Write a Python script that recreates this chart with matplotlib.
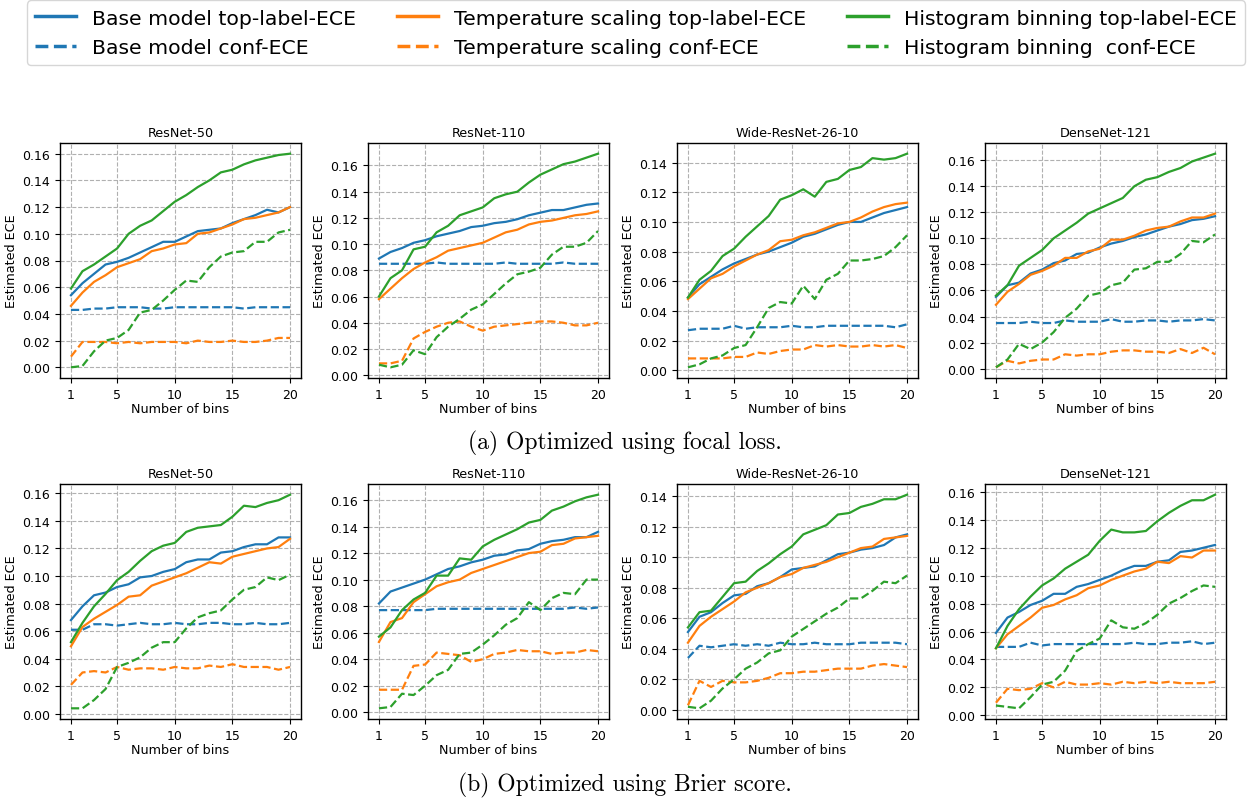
import numpy as np
import matplotlib
matplotlib.use("Agg")
import matplotlib.pyplot as plt
from matplotlib.lines import Line2D
from matplotlib.ticker import MultipleLocator, FormatStrFormatter

# number of bins on x
bins = list(range(1, 21))
titles = ["ResNet-50", "ResNet-110", "Wide-ResNet-26-10", "DenseNet-121"]
captions = ["(a) Optimized using focal loss.", "(b) Optimized using Brier score."]
legend_labels = ["Base model top-label-ECE", "Base model conf-ECE",
                 "Temperature scaling top-label-ECE", "Temperature scaling conf-ECE",
                 "Histogram binning top-label-ECE", "Histogram binning  conf-ECE"]

# ---- (a) focal loss ----
# ResNet-50
fl_r50_base_top = [0.054, 0.063, 0.070, 0.077, 0.079, 0.082, 0.086, 0.090, 0.094, 0.094, 0.098, 0.102, 0.103, 0.104, 0.108, 0.111, 0.114, 0.118, 0.116, 0.120]
fl_r50_base_conf = [0.043, 0.043, 0.044, 0.044, 0.045, 0.045, 0.045, 0.044, 0.044, 0.045, 0.045, 0.045, 0.045, 0.045, 0.045, 0.044, 0.045, 0.045, 0.045, 0.045]
fl_r50_ts_top = [0.046, 0.056, 0.064, 0.069, 0.075, 0.078, 0.081, 0.087, 0.089, 0.092, 0.093, 0.100, 0.101, 0.104, 0.107, 0.111, 0.112, 0.114, 0.116, 0.120]
fl_r50_ts_conf = [0.008, 0.019, 0.019, 0.019, 0.018, 0.019, 0.018, 0.019, 0.019, 0.019, 0.018, 0.020, 0.019, 0.019, 0.020, 0.019, 0.019, 0.020, 0.022, 0.022]
fl_r50_hb_top = [0.059, 0.072, 0.077, 0.083, 0.089, 0.100, 0.106, 0.110, 0.117, 0.124, 0.129, 0.135, 0.140, 0.146, 0.148, 0.152, 0.155, 0.157, 0.159, 0.160]
fl_r50_hb_conf = [0.000, 0.001, 0.012, 0.020, 0.022, 0.028, 0.041, 0.043, 0.050, 0.058, 0.065, 0.064, 0.075, 0.083, 0.086, 0.087, 0.094, 0.094, 0.101, 0.103]
# ResNet-110
fl_r110_base_top = [0.089, 0.094, 0.097, 0.101, 0.103, 0.106, 0.108, 0.110, 0.113, 0.114, 0.116, 0.117, 0.119, 0.122, 0.124, 0.126, 0.126, 0.128, 0.130, 0.131]
fl_r110_base_conf = [0.085, 0.085, 0.085, 0.085, 0.085, 0.086, 0.085, 0.085, 0.085, 0.085, 0.085, 0.086, 0.085, 0.085, 0.085, 0.085, 0.086, 0.085, 0.085, 0.085]
fl_r110_ts_top = [0.058, 0.066, 0.074, 0.081, 0.086, 0.090, 0.095, 0.097, 0.099, 0.101, 0.105, 0.109, 0.111, 0.115, 0.117, 0.118, 0.120, 0.122, 0.123, 0.125]
fl_r110_ts_conf = [0.009, 0.009, 0.011, 0.028, 0.033, 0.037, 0.040, 0.041, 0.037, 0.034, 0.037, 0.038, 0.039, 0.040, 0.041, 0.041, 0.040, 0.038, 0.038, 0.040]
fl_r110_hb_top = [0.060, 0.074, 0.080, 0.096, 0.098, 0.109, 0.114, 0.122, 0.125, 0.128, 0.135, 0.138, 0.140, 0.147, 0.153, 0.157, 0.161, 0.163, 0.166, 0.169]
fl_r110_hb_conf = [0.008, 0.006, 0.008, 0.019, 0.016, 0.029, 0.037, 0.043, 0.050, 0.054, 0.062, 0.070, 0.077, 0.079, 0.082, 0.092, 0.098, 0.098, 0.101, 0.110]
# Wide-ResNet-26-10
fl_wrn_base_top = [0.049, 0.058, 0.063, 0.068, 0.072, 0.075, 0.078, 0.080, 0.083, 0.086, 0.090, 0.092, 0.095, 0.098, 0.100, 0.100, 0.103, 0.106, 0.108, 0.110]
fl_wrn_base_conf = [0.027, 0.028, 0.028, 0.028, 0.030, 0.028, 0.029, 0.029, 0.029, 0.030, 0.029, 0.029, 0.030, 0.030, 0.030, 0.030, 0.030, 0.030, 0.029, 0.031]
fl_wrn_ts_top = [0.048, 0.055, 0.062, 0.065, 0.070, 0.074, 0.078, 0.081, 0.087, 0.088, 0.091, 0.093, 0.096, 0.099, 0.100, 0.103, 0.107, 0.110, 0.112, 0.113]
fl_wrn_ts_conf = [0.008, 0.008, 0.008, 0.008, 0.009, 0.009, 0.012, 0.011, 0.013, 0.014, 0.014, 0.017, 0.016, 0.017, 0.016, 0.016, 0.017, 0.016, 0.017, 0.015]
fl_wrn_hb_top = [0.049, 0.061, 0.067, 0.077, 0.082, 0.090, 0.097, 0.104, 0.115, 0.118, 0.122, 0.117, 0.127, 0.129, 0.135, 0.137, 0.143, 0.142, 0.143, 0.146]
fl_wrn_hb_conf = [0.002, 0.004, 0.008, 0.010, 0.015, 0.017, 0.029, 0.042, 0.046, 0.045, 0.057, 0.048, 0.061, 0.065, 0.074, 0.074, 0.075, 0.077, 0.083, 0.091]
# DenseNet-121
fl_dn_base_top = [0.055, 0.064, 0.066, 0.073, 0.076, 0.081, 0.083, 0.088, 0.089, 0.093, 0.096, 0.098, 0.101, 0.103, 0.106, 0.109, 0.111, 0.114, 0.115, 0.117]
fl_dn_base_conf = [0.035, 0.035, 0.035, 0.036, 0.035, 0.035, 0.037, 0.036, 0.036, 0.036, 0.038, 0.036, 0.036, 0.037, 0.037, 0.036, 0.037, 0.037, 0.038, 0.037]
fl_dn_ts_top = [0.049, 0.059, 0.065, 0.072, 0.075, 0.079, 0.085, 0.085, 0.090, 0.092, 0.099, 0.099, 0.102, 0.106, 0.108, 0.109, 0.113, 0.116, 0.116, 0.119]
fl_dn_ts_conf = [0.001, 0.006, 0.004, 0.006, 0.007, 0.007, 0.011, 0.010, 0.011, 0.011, 0.013, 0.014, 0.014, 0.013, 0.013, 0.012, 0.015, 0.012, 0.016, 0.011]
fl_dn_hb_top = [0.056, 0.064, 0.079, 0.085, 0.091, 0.100, 0.106, 0.112, 0.119, 0.123, 0.127, 0.131, 0.140, 0.145, 0.147, 0.151, 0.154, 0.159, 0.162, 0.165]
fl_dn_hb_conf = [0.001, 0.007, 0.019, 0.015, 0.020, 0.028, 0.039, 0.046, 0.056, 0.058, 0.064, 0.066, 0.076, 0.077, 0.082, 0.082, 0.088, 0.098, 0.097, 0.103]

# ---- (b) Brier score ----
# ResNet-50
bs_r50_base_top = [0.068, 0.078, 0.086, 0.088, 0.092, 0.094, 0.099, 0.100, 0.103, 0.105, 0.110, 0.112, 0.112, 0.117, 0.118, 0.121, 0.123, 0.123, 0.128, 0.128]
bs_r50_base_conf = [0.061, 0.061, 0.065, 0.065, 0.064, 0.065, 0.066, 0.065, 0.065, 0.066, 0.065, 0.065, 0.066, 0.066, 0.065, 0.065, 0.066, 0.065, 0.065, 0.066]
bs_r50_ts_top = [0.049, 0.063, 0.069, 0.074, 0.079, 0.085, 0.086, 0.093, 0.096, 0.099, 0.102, 0.106, 0.110, 0.109, 0.114, 0.116, 0.118, 0.120, 0.121, 0.127]
bs_r50_ts_conf = [0.021, 0.030, 0.031, 0.030, 0.034, 0.032, 0.033, 0.033, 0.032, 0.034, 0.033, 0.033, 0.035, 0.034, 0.036, 0.034, 0.034, 0.034, 0.032, 0.034]
bs_r50_hb_top = [0.052, 0.066, 0.078, 0.087, 0.097, 0.103, 0.111, 0.118, 0.122, 0.124, 0.132, 0.135, 0.136, 0.137, 0.143, 0.151, 0.150, 0.153, 0.155, 0.159]
bs_r50_hb_conf = [0.004, 0.004, 0.010, 0.018, 0.034, 0.037, 0.041, 0.048, 0.052, 0.052, 0.062, 0.070, 0.073, 0.075, 0.083, 0.090, 0.092, 0.099, 0.097, 0.101]
# ResNet-110
bs_r110_base_top = [0.082, 0.091, 0.094, 0.097, 0.100, 0.104, 0.108, 0.110, 0.113, 0.115, 0.118, 0.119, 0.122, 0.123, 0.127, 0.129, 0.130, 0.132, 0.132, 0.136]
bs_r110_base_conf = [0.077, 0.077, 0.077, 0.077, 0.077, 0.078, 0.078, 0.078, 0.078, 0.078, 0.078, 0.078, 0.078, 0.078, 0.078, 0.078, 0.078, 0.079, 0.078, 0.079]
bs_r110_ts_top = [0.053, 0.068, 0.071, 0.083, 0.089, 0.095, 0.098, 0.100, 0.105, 0.108, 0.111, 0.114, 0.117, 0.120, 0.121, 0.126, 0.127, 0.131, 0.132, 0.133]
bs_r110_ts_conf = [0.017, 0.017, 0.017, 0.035, 0.036, 0.045, 0.044, 0.043, 0.038, 0.040, 0.044, 0.045, 0.047, 0.046, 0.046, 0.044, 0.045, 0.045, 0.047, 0.046]
bs_r110_hb_top = [0.057, 0.064, 0.077, 0.085, 0.090, 0.103, 0.103, 0.116, 0.115, 0.125, 0.130, 0.134, 0.138, 0.143, 0.145, 0.152, 0.155, 0.159, 0.162, 0.164]
bs_r110_hb_conf = [0.003, 0.004, 0.014, 0.013, 0.020, 0.028, 0.032, 0.044, 0.045, 0.051, 0.058, 0.066, 0.071, 0.083, 0.077, 0.086, 0.090, 0.089, 0.100, 0.100]
# Wide-ResNet-26-10
bs_wrn_base_top = [0.051, 0.061, 0.064, 0.070, 0.075, 0.076, 0.081, 0.083, 0.087, 0.092, 0.093, 0.094, 0.098, 0.102, 0.103, 0.105, 0.106, 0.108, 0.113, 0.115]
bs_wrn_base_conf = [0.034, 0.042, 0.041, 0.042, 0.043, 0.042, 0.043, 0.042, 0.044, 0.043, 0.043, 0.044, 0.043, 0.043, 0.043, 0.044, 0.044, 0.044, 0.044, 0.043]
bs_wrn_ts_top = [0.044, 0.055, 0.061, 0.066, 0.071, 0.077, 0.080, 0.083, 0.087, 0.089, 0.093, 0.095, 0.097, 0.100, 0.103, 0.106, 0.107, 0.112, 0.113, 0.114]
bs_wrn_ts_conf = [0.003, 0.019, 0.015, 0.019, 0.018, 0.018, 0.019, 0.021, 0.024, 0.024, 0.025, 0.025, 0.026, 0.027, 0.027, 0.027, 0.029, 0.030, 0.029, 0.028]
bs_wrn_hb_top = [0.054, 0.064, 0.065, 0.074, 0.083, 0.084, 0.091, 0.096, 0.102, 0.107, 0.115, 0.118, 0.121, 0.128, 0.129, 0.133, 0.135, 0.138, 0.138, 0.141]
bs_wrn_hb_conf = [0.002, 0.001, 0.006, 0.014, 0.020, 0.027, 0.031, 0.037, 0.039, 0.048, 0.053, 0.058, 0.063, 0.067, 0.073, 0.073, 0.078, 0.084, 0.083, 0.088]
# DenseNet-121
bs_dn_base_top = [0.059, 0.070, 0.074, 0.079, 0.082, 0.087, 0.087, 0.092, 0.094, 0.097, 0.100, 0.104, 0.107, 0.107, 0.110, 0.111, 0.117, 0.118, 0.120, 0.122]
bs_dn_base_conf = [0.049, 0.049, 0.049, 0.052, 0.050, 0.051, 0.051, 0.051, 0.051, 0.051, 0.051, 0.051, 0.052, 0.051, 0.051, 0.052, 0.052, 0.053, 0.051, 0.052]
bs_dn_ts_top = [0.048, 0.058, 0.064, 0.070, 0.077, 0.079, 0.083, 0.086, 0.091, 0.093, 0.097, 0.100, 0.103, 0.105, 0.110, 0.109, 0.114, 0.113, 0.118, 0.118]
bs_dn_ts_conf = [0.009, 0.019, 0.018, 0.019, 0.023, 0.020, 0.024, 0.022, 0.022, 0.023, 0.022, 0.024, 0.023, 0.024, 0.023, 0.024, 0.023, 0.023, 0.023, 0.024]
bs_dn_hb_top = [0.048, 0.064, 0.076, 0.085, 0.093, 0.098, 0.105, 0.110, 0.115, 0.125, 0.133, 0.131, 0.131, 0.132, 0.139, 0.145, 0.150, 0.154, 0.154, 0.158]
bs_dn_hb_conf = [0.007, 0.006, 0.005, 0.013, 0.022, 0.024, 0.032, 0.046, 0.051, 0.055, 0.068, 0.063, 0.062, 0.066, 0.072, 0.080, 0.084, 0.089, 0.093, 0.092]

focal_panels = [
    (fl_r50_base_top, fl_r50_base_conf, fl_r50_ts_top, fl_r50_ts_conf, fl_r50_hb_top, fl_r50_hb_conf),
    (fl_r110_base_top, fl_r110_base_conf, fl_r110_ts_top, fl_r110_ts_conf, fl_r110_hb_top, fl_r110_hb_conf),
    (fl_wrn_base_top, fl_wrn_base_conf, fl_wrn_ts_top, fl_wrn_ts_conf, fl_wrn_hb_top, fl_wrn_hb_conf),
    (fl_dn_base_top, fl_dn_base_conf, fl_dn_ts_top, fl_dn_ts_conf, fl_dn_hb_top, fl_dn_hb_conf),
]
brier_panels = [
    (bs_r50_base_top, bs_r50_base_conf, bs_r50_ts_top, bs_r50_ts_conf, bs_r50_hb_top, bs_r50_hb_conf),
    (bs_r110_base_top, bs_r110_base_conf, bs_r110_ts_top, bs_r110_ts_conf, bs_r110_hb_top, bs_r110_hb_conf),
    (bs_wrn_base_top, bs_wrn_base_conf, bs_wrn_ts_top, bs_wrn_ts_conf, bs_wrn_hb_top, bs_wrn_hb_conf),
    (bs_dn_base_top, bs_dn_base_conf, bs_dn_ts_top, bs_dn_ts_conf, bs_dn_hb_top, bs_dn_hb_conf),
]

colors = ["tab:blue", "tab:blue", "tab:orange", "tab:orange", "tab:green", "tab:green"]
styles = ["-", "--", "-", "--", "-", "--"]

W, H = 1253, 803
fig = plt.figure(figsize=(W / 100, H / 100), dpi=100)

lefts = [60, 368, 677, 985]
tops = [144, 485]
ax_w, ax_h = 241, 235

for row, panels in enumerate([focal_panels, brier_panels]):
    for col, series in enumerate(panels):
        ax = fig.add_axes([lefts[col] / W, 1 - (tops[row] + ax_h) / H, ax_w / W, ax_h / H])
        for i, ys in enumerate(series):
            ax.plot(bins, ys, color=colors[i], linestyle=styles[i], lw=1.6)
        ax.set_title(titles[col], fontsize=9.2, pad=5)
        ax.set_xlabel("Number of bins", fontsize=9.2, labelpad=1)
        ax.set_ylabel("Estimated ECE", fontsize=9.2, labelpad=3)
        ax.set_xticks([1, 5, 10, 15, 20])
        ax.yaxis.set_major_locator(MultipleLocator(0.02))
        ax.yaxis.set_major_formatter(FormatStrFormatter("%.2f"))
        ax.tick_params(labelsize=9, length=3.5)
        ax.grid(True, linestyle="--", color="#b0b0b0", lw=0.8)
        for sp in ax.spines.values():
            sp.set_linewidth(1.0)

# captions
fig.text(625 / W, 1 - 443 / H, captions[0], ha="center", va="center", fontsize=17, family="cmr10")
fig.text(625 / W, 1 - 785 / H, captions[1], ha="center", va="center", fontsize=17, family="cmr10")

handles = [Line2D([], [], color=colors[i], linestyle=styles[i], lw=2.5) for i in range(6)]
fig.legend(handles, legend_labels, ncol=3, loc="lower center",
           bbox_to_anchor=(636 / W, 1 - 66 / H), fontsize=14.7,
           columnspacing=2.0, handlelength=2.0, borderaxespad=0)

fig.savefig("out.png", dpi=100)
